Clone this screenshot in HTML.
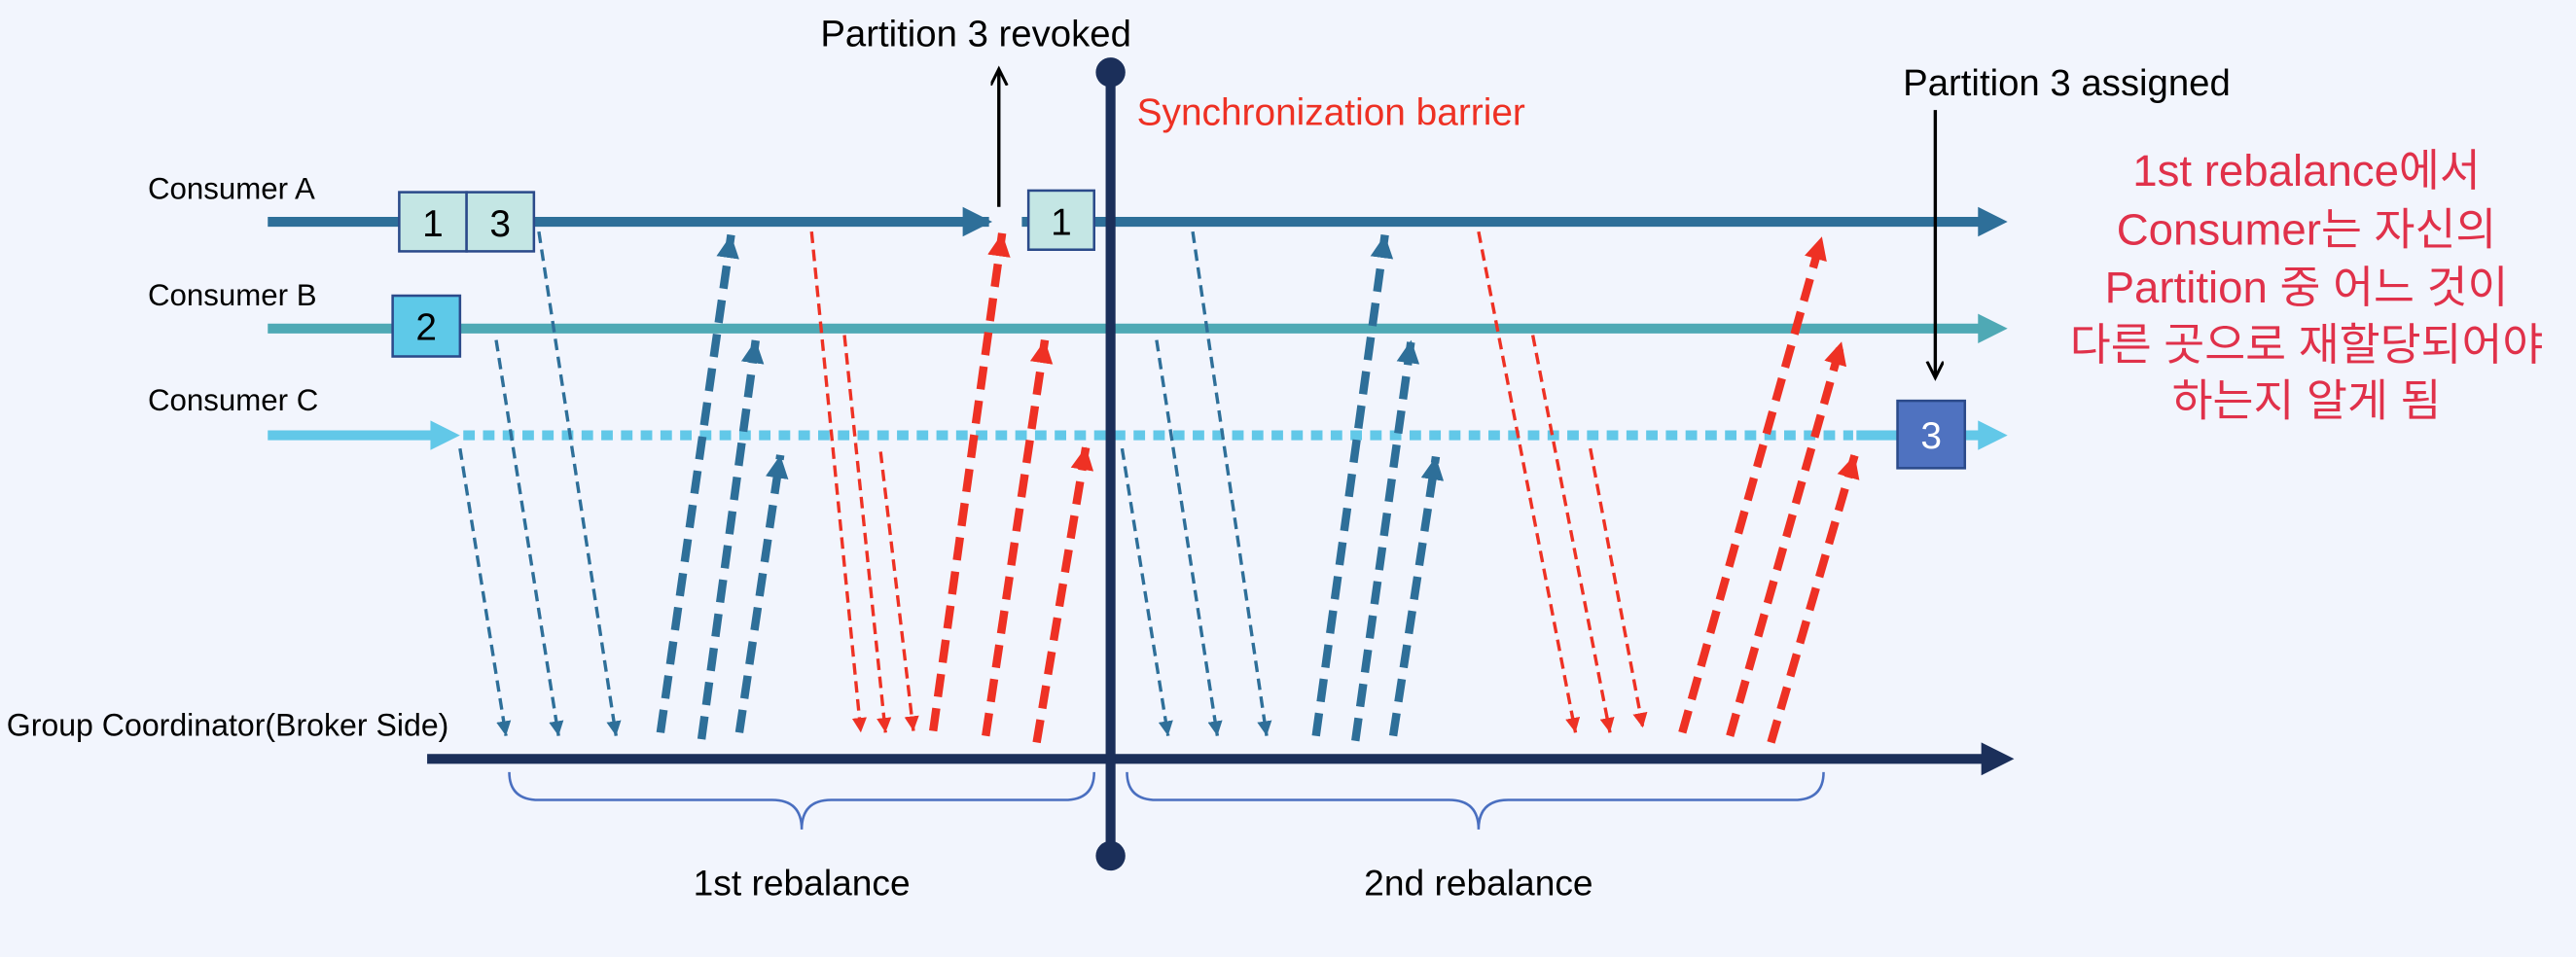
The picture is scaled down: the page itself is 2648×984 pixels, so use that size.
<!DOCTYPE html>
<html><head><meta charset="utf-8"><style>
html,body{margin:0;padding:0;background:#f2f5fd;}
svg{display:block;}
text{font-family:"Liberation Sans","Noto Sans CJK KR",sans-serif;}
</style></head><body>
<svg width="2648" height="984" viewBox="0 0 1568 582.6" preserveAspectRatio="none" xmlns="http://www.w3.org/2000/svg">
<defs>
<marker id="hb" markerUnits="userSpaceOnUse" markerWidth="16" markerHeight="16" refX="14" refY="7" orient="auto"><path d="M0,0 L14,7 L0,14 z" fill="#2e6f99"/></marker>
<marker id="hr" markerUnits="userSpaceOnUse" markerWidth="16" markerHeight="16" refX="14" refY="7" orient="auto"><path d="M0,0 L14,7 L0,14 z" fill="#ee3124"/></marker>
<marker id="sb" markerUnits="userSpaceOnUse" markerWidth="12" markerHeight="12" refX="9" refY="4.5" orient="auto"><path d="M0,0 L9,4.5 L0,9 z" fill="#2e6f99"/></marker>
<marker id="sr" markerUnits="userSpaceOnUse" markerWidth="12" markerHeight="12" refX="9" refY="4.5" orient="auto"><path d="M0,0 L9,4.5 L0,9 z" fill="#ee3124"/></marker>
<marker id="bk" markerUnits="userSpaceOnUse" markerWidth="12" markerHeight="12" refX="10" refY="5" orient="auto"><path d="M0,0 L10,5 L0,10" fill="none" stroke="#000" stroke-width="1.8"/></marker>
</defs>
<rect width="1568" height="583" fill="#f2f5fd"/>

<line x1="163" y1="135" x2="1206" y2="135" stroke="#2e6f99" stroke-width="6"/>
<path d="M1204,126 L1222,135 L1204,144 z" fill="#2e6f99"/>
<line x1="163" y1="200" x2="1206" y2="200" stroke="#4fa9b5" stroke-width="6"/>
<path d="M1204,191 L1222,200 L1204,209 z" fill="#4fa9b5"/>
<line x1="163" y1="265" x2="264" y2="265" stroke="#62c8e8" stroke-width="6"/>
<path d="M262,256 L280,265 L262,274 z" fill="#62c8e8"/>
<line x1="282" y1="265" x2="1128" y2="265" stroke="#62c8e8" stroke-width="6" stroke-dasharray="7 5"/>
<line x1="1130" y1="265" x2="1206" y2="265" stroke="#62c8e8" stroke-width="6"/>
<path d="M1204,256 L1222,265 L1204,274 z" fill="#62c8e8"/>
<line x1="260" y1="462" x2="1208" y2="462" stroke="#1b2f5a" stroke-width="6"/>
<path d="M1206,452 L1226,462 L1206,472 z" fill="#1b2f5a"/>

<rect x="602" y="128" width="20" height="14" fill="#f2f5fd"/>
<path d="M586,126 L604,135 L586,144 z" fill="#2e6f99"/>

<line x1="676" y1="44" x2="676" y2="521" stroke="#1b2f5a" stroke-width="6"/>
<circle cx="676" cy="44" r="9" fill="#1b2f5a"/>
<circle cx="676" cy="521" r="9" fill="#1b2f5a"/>

<rect x="243" y="117" width="41" height="36" fill="#c4e6e4" stroke="#2b4a8a" stroke-width="1.5"/>
<rect x="284" y="117" width="41" height="36" fill="#c4e6e4" stroke="#2b4a8a" stroke-width="1.5"/>
<text x="263.5" y="144" font-size="23" text-anchor="middle">1</text>
<text x="304.5" y="144" font-size="23" text-anchor="middle">3</text>
<rect x="239" y="180" width="41" height="37" fill="#5ec9e8" stroke="#2b4a8a" stroke-width="1.5"/>
<text x="259.5" y="207" font-size="23" text-anchor="middle">2</text>
<rect x="626" y="116" width="40" height="36" fill="#c4e6e4" stroke="#2b4a8a" stroke-width="1.5"/>
<text x="646" y="143" font-size="23" text-anchor="middle">1</text>
<rect x="1155" y="244" width="41" height="41" fill="#4f72c0" stroke="#2b4a8a" stroke-width="1.5"/>
<text x="1175.5" y="273" font-size="23" text-anchor="middle" fill="#fff">3</text>

<text x="90" y="121" font-size="18.5">Consumer A</text>
<text x="90" y="186" font-size="18.5">Consumer B</text>
<text x="90" y="250" font-size="18.5">Consumer C</text>
<text x="4" y="448" font-size="19">Group Coordinator(Broker Side)</text>
<text x="594" y="28" font-size="22.7" text-anchor="middle">Partition 3 revoked</text>
<line x1="608" y1="126" x2="608" y2="42" stroke="#000" stroke-width="2" marker-end="url(#bk)"/>
<text x="692" y="76" font-size="23" fill="#ee3124">Synchronization barrier</text>
<text x="1258" y="58" font-size="22.7" text-anchor="middle">Partition 3 assigned</text>
<line x1="1178" y1="67" x2="1178" y2="230" stroke="#000" stroke-width="2" marker-end="url(#bk)"/>

<g font-size="27" fill="#e0314a" text-anchor="middle">
<text x="1404" y="113">1st rebalance에서</text>
<text x="1404" y="149">Consumer는 자신의</text>
<text x="1404" y="184">Partition 중 어느 것이</text>
<text x="1404" y="219">다른 곳으로 재할당되어야</text>
<text x="1404" y="253">하는지 알게 됨</text>
</g>

<path d="M310,470 Q310,487 328,487 L470,487 Q488,487 488,505 Q488,487 506,487 L648,487 Q666,487 666,470" fill="none" stroke="#4a6fc0" stroke-width="1.5"/>
<path d="M686,470 Q686,487 704,487 L882,487 Q900,487 900,505 Q900,487 918,487 L1092,487 Q1110,487 1110,470" fill="none" stroke="#4a6fc0" stroke-width="1.5"/>
<text x="488" y="545" font-size="22" text-anchor="middle">1st rebalance</text>
<text x="900" y="545" font-size="22" text-anchor="middle">2nd rebalance</text>

<g stroke="#2e6f99" stroke-width="2" stroke-dasharray="7 4" marker-end="url(#sb)" fill="none">
<line x1="328" y1="141" x2="375" y2="448"/>
<line x1="302" y1="207" x2="340" y2="448"/>
<line x1="280" y1="273" x2="308" y2="448"/>
<line x1="683" y1="273" x2="711" y2="448"/>
<line x1="704" y1="207" x2="741" y2="448"/>
<line x1="726" y1="141" x2="771" y2="448"/>
</g>
<g stroke="#ee3124" stroke-width="2" stroke-dasharray="7 4" marker-end="url(#sr)" fill="none">
<line x1="494" y1="141" x2="524" y2="446"/>
<line x1="514" y1="204" x2="539" y2="446"/>
<line x1="536" y1="275" x2="556" y2="445"/>
<line x1="900" y1="141" x2="959" y2="446"/>
<line x1="933" y1="204" x2="980" y2="446"/>
<line x1="968" y1="273" x2="1000" y2="443"/>
</g>
<g stroke="#2e6f99" stroke-width="5" stroke-dasharray="14 7" marker-end="url(#hb)" fill="none">
<line x1="402" y1="446" x2="445" y2="143"/>
<line x1="427" y1="450" x2="460" y2="207"/>
<line x1="450" y1="446" x2="475" y2="277"/>
<line x1="801" y1="448" x2="843" y2="143"/>
<line x1="825" y1="451" x2="859" y2="207"/>
<line x1="848" y1="448" x2="874" y2="278"/>
</g>
<g stroke="#ee3124" stroke-width="5" stroke-dasharray="14 7" marker-end="url(#hr)" fill="none">
<line x1="568" y1="445" x2="610" y2="142"/>
<line x1="600" y1="448" x2="636" y2="207"/>
<line x1="631" y1="452" x2="661" y2="272"/>
<line x1="1024" y1="446" x2="1109" y2="144"/>
<line x1="1053" y1="448" x2="1121" y2="208"/>
<line x1="1078" y1="452" x2="1129" y2="277"/>
</g>
</svg>
</body></html>
